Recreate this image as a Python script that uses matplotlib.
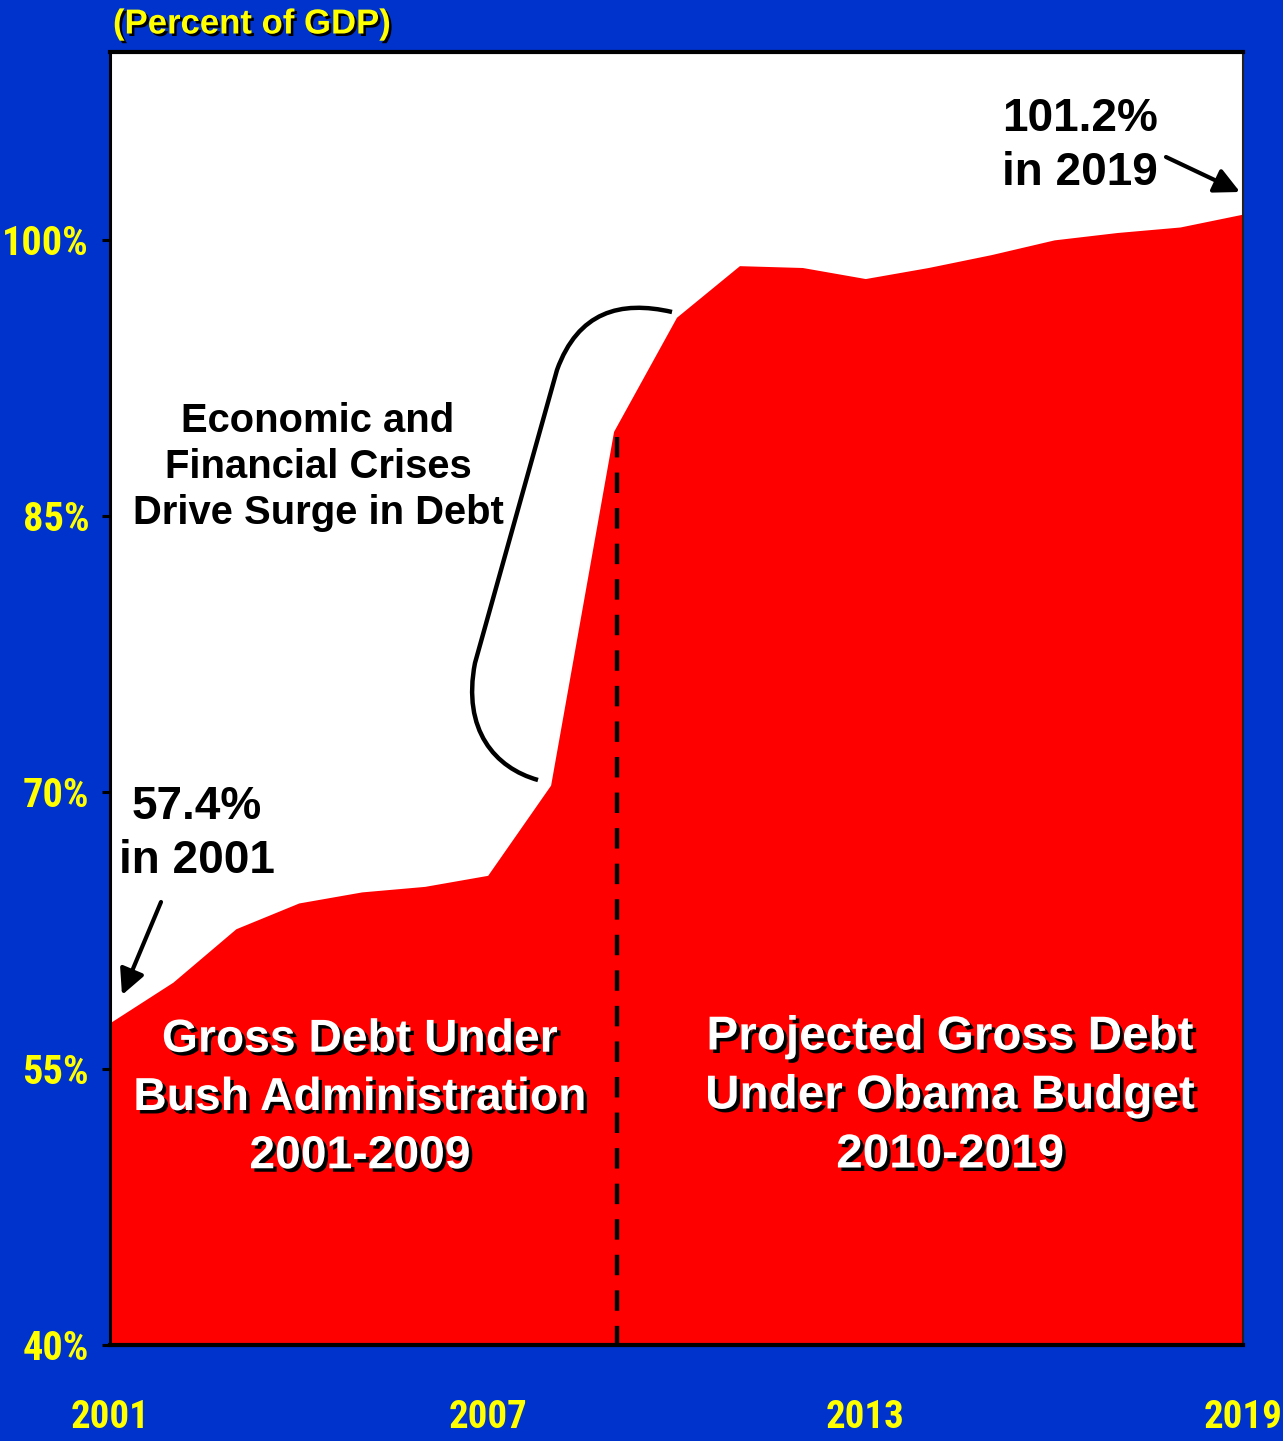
import matplotlib
matplotlib.use("Agg")
import matplotlib.pyplot as plt
from matplotlib import patheffects as pe
from matplotlib.path import Path
from matplotlib.patches import PathPatch
from matplotlib import font_manager as fm

# ---- data ----
years = [2001, 2002, 2003, 2004, 2005, 2006, 2007, 2008, 2009, 2010,
         2011, 2012, 2013, 2014, 2015, 2016, 2017, 2018, 2019]
debt_pct = [57.5, 59.7, 62.6, 64.0, 64.6, 64.9, 65.5, 70.4, 89.6, 95.8,
            98.6, 98.5, 97.9, 98.5, 99.2, 100.0, 100.4, 100.7, 101.4]
ytick_vals = [40, 55, 70, 85, 100]
ytick_labels = ["40%", "55%", "70%", "85%", "100%"]
xtick_vals = [2001, 2007, 2013, 2019]
xtick_labels = ["2001", "2007", "2013", "2019"]
split_year = 2009.06

BLUE = "#0033CC"
RED = "#FF0000"
YELLOW = "#FFFF00"

names = {f.name for f in fm.fontManager.ttflist}
NARROW = None
for cand in ["Liberation Sans Narrow", "Arial Narrow", "Roboto Condensed",
             "Open Sans Condensed", "Nimbus Sans Narrow"]:
    if cand in names:
        NARROW = cand
        break
SANS = "Liberation Sans"
if NARROW is None:
    NARROW = SANS
    ysize, xsize = 23, 24
else:
    ysize, xsize = 29, 28

W, H = 1283, 1441
fig = plt.figure(figsize=(W / 100, H / 100), dpi=100, facecolor=BLUE)
ax = fig.add_axes([110 / W, 96 / H, 1133 / W, 1293 / H])
ax.set_facecolor("white")

ax.fill_between(years, 40, debt_pct, color=RED, lw=0, zorder=1)
ax.set_xlim(2001, 2019)
ax.set_ylim(40, 110.2)

# dashed divider (drawn top-down so the pattern starts at the fill edge)
y_split = debt_pct[8] - 0.3
ax.plot([split_year, split_year], [y_split, 40], color="black", lw=3.2,
        dashes=(4.6, 3.4), zorder=3, dash_capstyle="butt")

for s in ax.spines.values():
    s.set_color("black")
ax.spines["left"].set_linewidth(2.2)
ax.spines["bottom"].set_linewidth(3)
ax.spines["top"].set_linewidth(3)
ax.spines["right"].set_linewidth(1.5)
ax.spines["right"].set_color("#222222")

ax.set_yticks(ytick_vals)
ax.set_yticklabels(ytick_labels)
ax.set_xticks(xtick_vals)
ax.set_xticklabels(xtick_labels)
ax.tick_params(axis="y", length=6, width=2.2, color="black", pad=9,
               labelcolor=YELLOW, labelsize=ysize)
ax.tick_params(axis="x", length=0, pad=39, labelcolor=YELLOW, labelsize=xsize)
for lab in ax.get_yticklabels() + ax.get_xticklabels():
    lab.set_fontfamily(NARROW)
    lab.set_fontweight("bold")

# title
fig.text(113 / W, 1 - 24 / H, "(Percent of GDP)", color=YELLOW, fontsize=25,
         fontweight="bold", family=SANS, ha="left", va="center",
         path_effects=[pe.withSimplePatchShadow(offset=(1.8, -1.8),
                                                shadow_rgbFace="black", alpha=1.0)])


def ax_frac(px, py):
    return ((px - 110) / 1133, (1345 - py) / 1293)


shadow = [pe.withSimplePatchShadow(offset=(2.5, -2.5), shadow_rgbFace="black", alpha=1.0)]

# big labels in red area
x, y = ax_frac(360, 1098)
ax.text(x, y, "Gross Debt Under\nBush Administration\n2001-2009", transform=ax.transAxes,
        ha="center", va="center", color="white", fontsize=33.3, fontweight="bold",
        family=SANS, linespacing=1.42, path_effects=shadow, zorder=5)
x, y = ax_frac(950, 1096)
ax.text(x, y, "Projected Gross Debt\nUnder Obama Budget\n2010-2019", transform=ax.transAxes,
        ha="center", va="center", color="white", fontsize=34.3, fontweight="bold",
        family=SANS, linespacing=1.4, path_effects=shadow, zorder=5)

# black annotations
x, y = ax_frac(318, 467)
ax.text(x, y, "Economic and\nFinancial Crises\nDrive Surge in Debt", transform=ax.transAxes,
        ha="center", va="center", color="black", fontsize=28.8, fontweight="bold",
        family=SANS, linespacing=1.25, zorder=5)
x, y = ax_frac(197, 834)
ax.text(x, y, "57.4%\nin 2001", transform=ax.transAxes,
        ha="center", va="center", color="black", fontsize=33, fontweight="bold",
        family=SANS, linespacing=1.3, zorder=5)
x, y = ax_frac(1080, 146)
ax.text(x, y, "101.2%\nin 2019", transform=ax.transAxes,
        ha="center", va="center", color="black", fontsize=33, fontweight="bold",
        family=SANS, linespacing=1.3, zorder=5)

# arrows
arrow_kw = dict(arrowstyle="-|>,head_length=0.9,head_width=0.45", color="black",
                lw=3, shrinkA=0, shrinkB=0, mutation_scale=17)
ax.annotate("", xy=ax_frac(122, 995), xytext=ax_frac(161, 902),
            xycoords="axes fraction", textcoords="axes fraction", arrowprops=arrow_kw)
ax.annotate("", xy=ax_frac(1240, 192), xytext=ax_frac(1166, 157),
            xycoords="axes fraction", textcoords="axes fraction", arrowprops=arrow_kw)

# bracket
pts = [(538, 780), (495, 768), (462, 730), (475, 663),
       (557, 370),
       (578, 312), (620, 300), (672, 312)]
codes = [Path.MOVETO, Path.CURVE4, Path.CURVE4, Path.CURVE4,
         Path.LINETO,
         Path.CURVE4, Path.CURVE4, Path.CURVE4]
bpath = Path([ax_frac(*p) for p in pts], codes)
ax.add_patch(PathPatch(bpath, transform=ax.transAxes, fill=False, edgecolor="black",
                       lw=3.2, zorder=4))

fig.savefig("out.png", dpi=100, facecolor=BLUE)
